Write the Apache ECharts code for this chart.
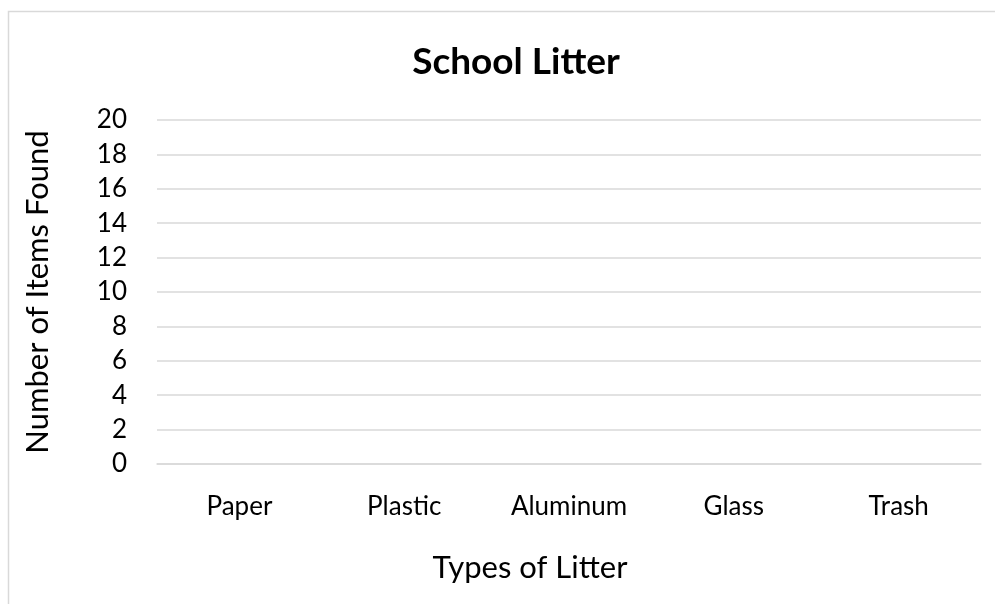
<!DOCTYPE html>
<html>
<head>
<meta charset="utf-8">
<script src="https://cdn.jsdelivr.net/npm/echarts@6/dist/echarts.min.js"></script>
<style>
  html, body { margin: 0; padding: 0; background: #fff; }
  #chart { width: 995px; height: 604px; }
</style>
</head>
<body>
<div id="chart"></div>
<script>
// 数据
var categories = ['Paper', 'Plastic', 'Aluminum', 'Glass', 'Trash'];
var itemsFound = [null, null, null, null, null]; // 图中没有柱子
var yTicks = { min: 0, max: 20, interval: 2 };

var font = 'Lato, Calibri, sans-serif';

var chart = echarts.init(document.getElementById('chart'));
chart.setOption({
    animation: false,
    backgroundColor: '#fff',
    title: {
        text: 'School Litter',
        left: 511,
        top: 39,
        textAlign: 'center',
        textStyle: { fontFamily: font, fontSize: 37, fontWeight: 'bold', color: '#000' }
    },
    graphic: [{
        type: 'rect',
        shape: { x: 8.5, y: 11.5, width: 1100, height: 700 },
        style: { fill: 'none', stroke: '#d9d9d9', lineWidth: 1.5 },
        silent: true
    }],
    grid: { left: 157, right: 14, top: 120, bottom: 140 },
    xAxis: {
        type: 'category',
        data: categories,
        name: 'Types of Litter',
        nameLocation: 'middle',
        nameGap: 88,
        nameTextStyle: { fontFamily: font, fontSize: 31, color: '#000', padding: [0, 78, 0, 0] },
        axisLine: { show: true, lineStyle: { color: '#d9d9d9', width: 1.5 } },
        axisTick: { show: false },
        axisLabel: { fontFamily: font, fontSize: 26, color: '#000', margin: 30 }
    },
    yAxis: {
        type: 'value',
        min: yTicks.min,
        max: yTicks.max,
        interval: yTicks.interval,
        name: 'Number of Items Found',
        nameLocation: 'middle',
        nameGap: 104,
        nameTextStyle: { fontFamily: font, fontSize: 31, color: '#000' },
        axisLine: { show: false },
        axisTick: { show: false },
        axisLabel: { fontFamily: font, fontSize: 26, color: '#000', margin: 30 },
        splitLine: { lineStyle: { color: '#d9d9d9', width: 1.5 } }
    },
    series: [{
        type: 'bar',
        data: itemsFound,
        itemStyle: { color: '#4472c4' }
    }]
});
</script>
</body>
</html>
